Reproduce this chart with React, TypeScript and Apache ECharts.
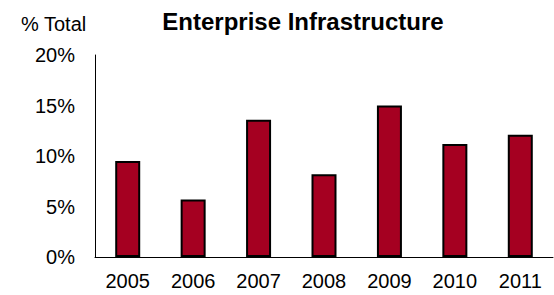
import React, { useEffect, useRef } from "react";
import * as echarts from "echarts";

const categories = ["2005", "2006", "2007", "2008", "2009", "2010", "2011"];
const values = [9.5, 5.7, 13.6, 8.2, 15.0, 11.2, 12.1];
const yTicks = [0, 5, 10, 15, 20];

export default function App() {
  const ref = useRef<HTMLDivElement>(null);
  useEffect(() => {
    const chart = echarts.init(ref.current!, null, { renderer: "svg" });
    const font = "Liberation Sans, Arial, sans-serif";
    chart.setOption({
      animation: false,
      backgroundColor: "#ffffff",
      title: {
        text: "Enterprise Infrastructure",
        left: 298,
        top: 4,
        textAlign: "center",
        textStyle: { fontFamily: font, fontSize: 24, fontWeight: "bold", color: "#000" },
      },
      graphic: [
        {
          type: "text",
          left: 21,
          top: 14,
          style: { text: "% Total", fontFamily: font, fontSize: 20, fill: "#000" },
        },
      ],
      grid: { left: 95, right: 1, top: 55, bottom: 38 },
      xAxis: {
        type: "category",
        data: categories,
        axisLine: { show: true, lineStyle: { color: "#000", width: 1 } },
        axisTick: { show: false },
        axisLabel: { fontFamily: font, fontSize: 20, color: "#000", margin: 14 },
      },
      yAxis: {
        type: "value",
        min: yTicks[0],
        max: yTicks[yTicks.length - 1],
        interval: 5,
        axisLine: { show: true, lineStyle: { color: "#000", width: 1 } },
        axisTick: { show: false },
        splitLine: { show: false },
        axisLabel: {
          fontFamily: font,
          fontSize: 20,
          color: "#000",
          margin: 20,
          formatter: (v: number) => v + "%",
        },
      },
      series: [
        {
          type: "bar",
          data: values,
          barWidth: 25,
          itemStyle: { color: "#A50021", borderColor: "#000", borderWidth: 2 },
        },
      ],
    });
    return () => chart.dispose();
  }, []);
  return <div ref={ref} style={{ width: 554, height: 295, position: "absolute", left: 0, top: 0 }} />;
}
